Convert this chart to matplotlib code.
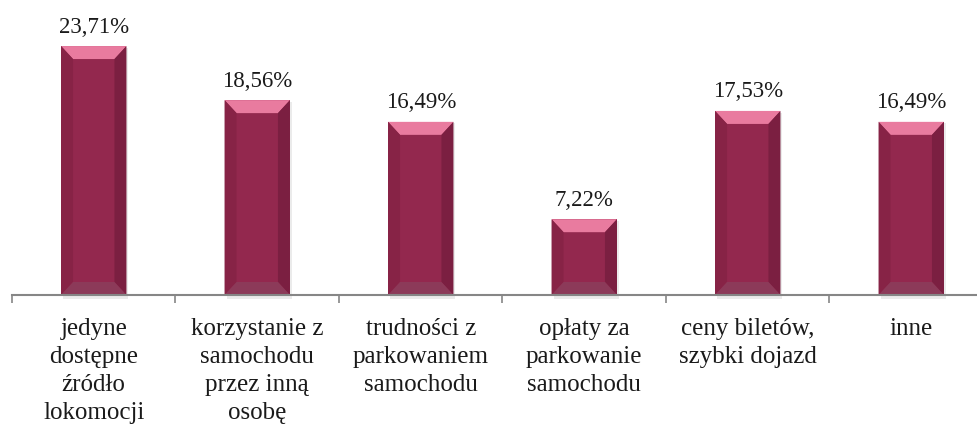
import matplotlib.pyplot as plt
from matplotlib.patches import Polygon, Rectangle

categories = ["jedyne\ndostępne\nźródło\nlokomocji",
              "korzystanie z\nsamochodu\nprzez inną\nosobę",
              "trudności z\nparkowaniem\nsamochodu",
              "opłaty za\nparkowanie\nsamochodu",
              "ceny biletów,\nszybki dojazd",
              "inne"]
values = [23.71, 18.56, 16.49, 7.22, 17.53, 16.49]
labels = ["23,71%", "18,56%", "16,49%", "7,22%", "17,53%", "16,49%"]

W, H = 978, 427
fig = plt.figure(figsize=(W / 100, H / 100), dpi=100)
# axes: x from 12px, 163.6px per category; y baseline at 296px, 10.5px per percent
ax = fig.add_axes([12 / W, (H - 296) / H, 981 / W, 294 / H])
ymax = 294 / 10.5
ax.set_xlim(-0.5, 5.5)
ax.set_ylim(0, ymax)

face = "#93284e"
top_c = "#e97b9f"
left_c = "#872346"
right_c = "#7b1f41"
bot_c = "#8c3a59"

bw = 0.40
dx = 12 / 163.6
dy = 13 / 10.5

for i, v in enumerate(values):
    x0, x1 = i - bw / 2, i + bw / 2
    # soft shadow
    ax.add_patch(Rectangle((x0 + 0.012, -0.35), bw, v + 0.2, color="#000000",
                           alpha=0.08, lw=0, zorder=1, clip_on=False))
    ax.bar(i, v, width=bw, color=face, lw=0, zorder=2)
    ax.add_patch(Polygon([(x0, v), (x1, v), (x1 - dx, v - dy), (x0 + dx, v - dy)],
                         closed=True, color=top_c, lw=0, zorder=3))
    ax.add_patch(Polygon([(x0, 0), (x0, v), (x0 + dx, v - dy), (x0 + dx, dy)],
                         closed=True, color=left_c, lw=0, zorder=3))
    ax.add_patch(Polygon([(x1, 0), (x1, v), (x1 - dx, v - dy), (x1 - dx, dy)],
                         closed=True, color=right_c, lw=0, zorder=3))
    ax.add_patch(Polygon([(x0, 0), (x1, 0), (x1 - dx, dy), (x0 + dx, dy)],
                         closed=True, color=bot_c, lw=0, zorder=3))
    ax.text(i, v + 0.9, labels[i], ha="center", va="bottom",
            fontsize=16.5, family="Liberation Serif", color="#1a1a1a")

for s in ["top", "right", "left"]:
    ax.spines[s].set_visible(False)
ax.spines["bottom"].set_color("#868686")
ax.spines["bottom"].set_linewidth(1.5)
ax.spines["bottom"].set_zorder(4)
ax.set_yticks([])
ax.set_xticks([i - 0.5 for i in range(7)], minor=False)
ax.set_xticklabels([])
ax.tick_params(axis="x", length=6, width=1.2, color="#868686", direction="out")
ax.set_xticks(range(6), minor=True)
ax.set_xticklabels(categories, minor=True, fontsize=18, family="Liberation Serif",
                   color="#1a1a1a", linespacing=1.35)
ax.tick_params(axis="x", which="minor", length=0, pad=16)

fig.savefig("out.png", dpi=100)
